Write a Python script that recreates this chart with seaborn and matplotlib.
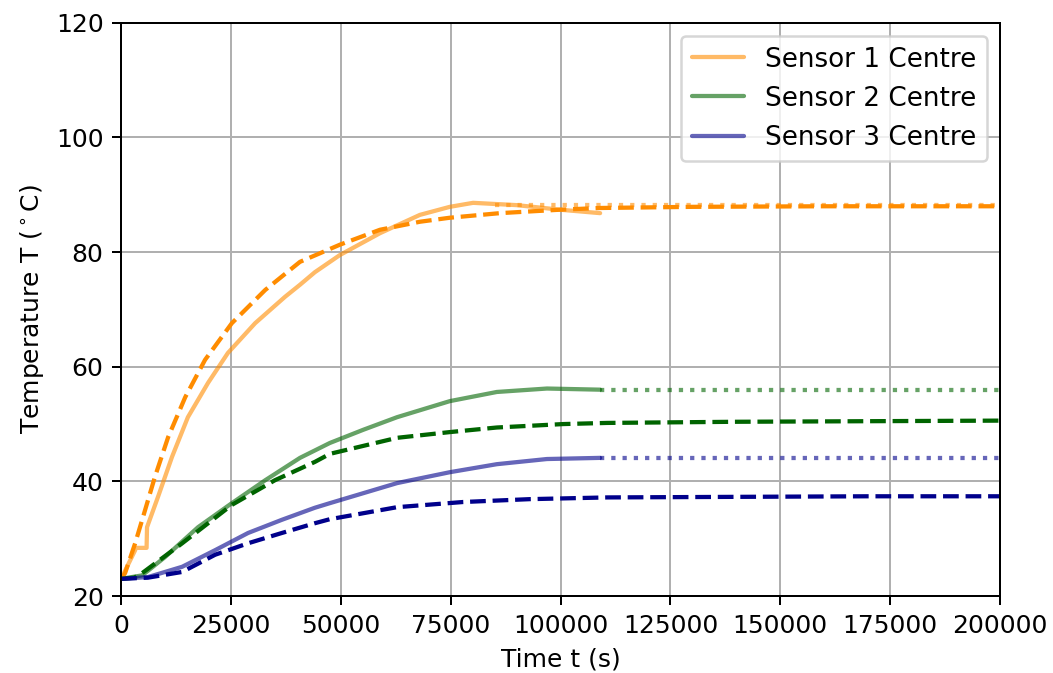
import numpy as np
import matplotlib
matplotlib.use("Agg")
import matplotlib.pyplot as plt
import seaborn as sns

# measured centre temperatures (solid)
t_s1 = [0, 200, 3200, 3300, 5800, 5900, 8400, 11600, 15200, 19800, 24300, 30500,
        37300, 40700, 44100, 49800, 58900, 68000, 74800, 80100, 90000, 99900, 109000]
s1_meas = [23.0, 23.3, 28.0, 28.4, 28.4, 32.0, 37.3, 44.3, 51.2, 57.2, 62.4, 67.6,
           72.2, 74.3, 76.5, 79.5, 83.3, 86.5, 87.9, 88.6, 88.2, 87.4, 86.8]

t_s2 = [0, 4800, 10000, 17500, 25200, 32800, 40700, 47500, 55100, 62800, 74800,
        85500, 96900, 109000]
s2_meas = [23.0, 23.6, 26.8, 32.0, 36.2, 40.2, 44.1, 46.7, 49.0, 51.2, 54.0,
           55.6, 56.2, 56.0]

t_s3 = [0, 6100, 13900, 21400, 28900, 36600, 44100, 47500, 62800, 74800, 85500,
        96900, 109000]
s3_meas = [23.0, 23.3, 25.1, 28.0, 31.0, 33.3, 35.4, 36.2, 39.7, 41.6, 43.0, 43.9, 44.1]

# model predictions (dashed)
t_m1 = [0, 910, 3200, 5460, 7700, 10700, 14600, 19100, 25200, 32800, 40700, 49800,
        58900, 68000, 74800, 86200, 99900, 109000, 130000, 160000, 200000]
s1_model = [23.0, 24.0, 29.2, 35.0, 40.8, 47.7, 54.7, 61.2, 67.6, 73.4, 78.3, 81.3,
            83.9, 85.3, 86.0, 86.8, 87.4, 87.7, 87.9, 88.0, 88.0]

t_m2 = [0, 3000, 4800, 13900, 25200, 35000, 44100, 47500, 62800, 74800, 85500,
        100600, 110600, 140000, 170000, 200000]
s2_model = [23.0, 23.2, 24.0, 29.2, 35.9, 40.2, 43.4, 44.8, 47.6, 48.6, 49.4,
            50.0, 50.2, 50.4, 50.5, 50.6]

t_m3 = [0, 6100, 13900, 21400, 28900, 36600, 44100, 47500, 62800, 77800, 93000,
        110600, 140000, 170000, 200000]
s3_model = [23.0, 23.2, 24.2, 27.2, 29.2, 31.0, 32.7, 33.4, 35.5, 36.4, 36.9,
            37.2, 37.3, 37.4, 37.4]

# plateau extension (dotted)
s1_ext_t = [85000, 200000]
s1_ext = [88.2, 88.2]
s23_ext_t = [109000, 200000]
s2_ext = [56.0, 56.0]
s3_ext = [44.0, 44.0]

sns.set_style("ticks")
plt.rcParams["font.family"] = ["DejaVu Sans"]
plt.rcParams["text.color"] = "black"
plt.rcParams["axes.labelcolor"] = "black"

fig, ax = plt.subplots(figsize = (5.85, 3.739), dpi = 180)
fig.subplots_adjust(left = 0.115, right = 0.9497, top = 0.966, bottom = 0.1144)

lw = 1.7
sns.lineplot(x = t_s1, y = s1_meas, color = "darkorange", alpha = 0.6, lw = lw,
             label = "Sensor 1 Centre", ax = ax)
sns.lineplot(x = t_s2, y = s2_meas, color = "darkgreen", alpha = 0.6, lw = lw,
             label = "Sensor 2 Centre", ax = ax)
sns.lineplot(x = t_s3, y = s3_meas, color = "darkblue", alpha = 0.6, lw = lw,
             label = "Sensor 3 Centre", ax = ax)

for t, y, c in [(t_m1, s1_model, "darkorange"), (t_m2, s2_model, "darkgreen"),
                (t_m3, s3_model, "darkblue")]:
    sns.lineplot(x = t, y = y, color = c, lw = lw, linestyle = "--", ax = ax)

sns.lineplot(x = s1_ext_t, y = s1_ext, color = "darkorange", alpha = 0.6, lw = lw,
             linestyle = ":", ax = ax)
sns.lineplot(x = s23_ext_t, y = s2_ext, color = "darkgreen", alpha = 0.6, lw = lw,
             linestyle = ":", ax = ax)
sns.lineplot(x = s23_ext_t, y = s3_ext, color = "darkblue", alpha = 0.6, lw = lw,
             linestyle = ":", ax = ax)

ax.set_xlim(0, 200000)
ax.set_ylim(20, 120)
ax.set_xticks(np.arange(0, 200001, 25000))
ax.set_yticks(np.arange(20, 121, 20))
ax.grid(True, color = "#b0b0b0", linewidth = 0.8)
for s in ax.spines.values():
    s.set_visible(True)
    s.set_color("black")
    s.set_linewidth(0.8)
ax.tick_params(colors = "black", labelsize = 10, length = 3.5, width = 0.8)
ax.set_xlabel("Time t (s)", fontsize = 10)
ax.set_ylabel("Temperature T ($^\\circ$C)", fontsize = 10)
ax.legend(loc = "upper right", fontsize = 10.5, frameon = True)

fig.savefig("out.png", dpi = 180)
